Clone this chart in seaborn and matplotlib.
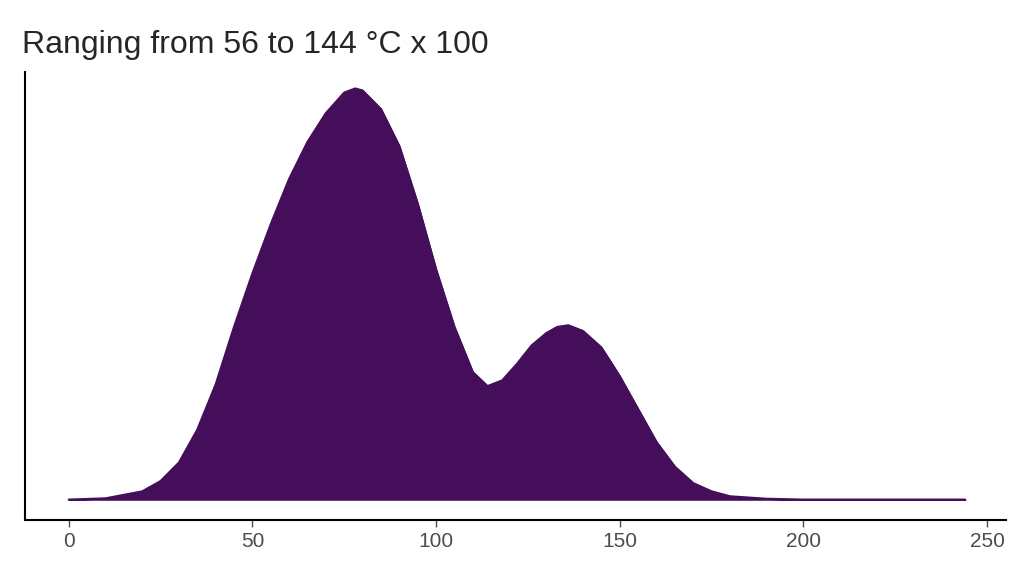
import numpy as np
import pandas as pd
import matplotlib
matplotlib.use("Agg")
import matplotlib.pyplot as plt
import seaborn as sns

# density curve (relative height)
temp = [0, 10, 20, 25, 30, 35, 40, 45, 50, 55, 60, 65, 70, 75, 78, 80, 85, 90, 95,
        100, 105, 110, 114, 118, 122, 126, 130, 133, 136, 140, 145, 150, 155, 160,
        165, 170, 175, 180, 190, 200, 244]
dens = [0.0, 0.003, 0.02, 0.045, 0.09, 0.17, 0.28, 0.42, 0.55, 0.67, 0.78, 0.87,
        0.94, 0.99, 1.0, 0.995, 0.95, 0.86, 0.72, 0.56, 0.42, 0.31, 0.276, 0.29,
        0.33, 0.375, 0.405, 0.42, 0.424, 0.41, 0.37, 0.30, 0.22, 0.14, 0.08, 0.04,
        0.02, 0.008, 0.002, 0.0, 0.0]
df = pd.DataFrame({"temp": temp, "dens": dens})

sns.set_theme(style="ticks")
plt.rcParams["font.family"] = ["Liberation Sans", "DejaVu Sans"]
fig, ax = plt.subplots(figsize=(10.24, 5.76), dpi=100)
color = "#440E5A"
sns.lineplot(data=df, x="temp", y="dens", color=color, lw=1.5, ax=ax)
ax.fill_between(df["temp"], df["dens"], color=color)

ax.set_xlim(-12, 255)
ax.set_ylim(-0.05, 1.04)
ax.set_xticks([0, 50, 100, 150, 200, 250])
ax.set_yticks([])
ax.set_xlabel("")
ax.set_ylabel("")
ax.tick_params(axis="x", labelsize=15, colors="#4d4d4d", length=5, width=1)
for lab in ax.get_xticklabels():
    lab.set_color("#4d4d4d")
for s in ["top", "right"]:
    ax.spines[s].set_visible(False)
for s in ["left", "bottom"]:
    ax.spines[s].set_linewidth(1.5)
    ax.spines[s].set_color("black")
ax.set_title("Ranging from 56 to 144 °C x 100", loc="left", fontsize=23, x=-0.003, pad=14)
fig.subplots_adjust(left=0.024, right=0.982, top=0.875, bottom=0.097)
fig.savefig("out.png")
